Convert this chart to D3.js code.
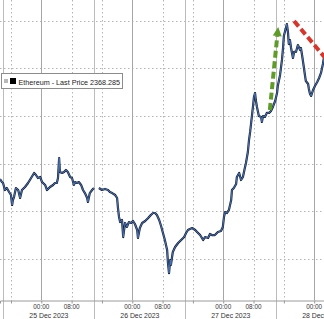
<!DOCTYPE html>
<html>
<head>
<meta charset="utf-8">
<script src="https://cdn.jsdelivr.net/npm/d3@7"></script>
<style>
  html, body { margin: 0; padding: 0; background: #fff; }
  svg { display: block; font-family: 'Liberation Sans', Arial, sans-serif; }
</style>
</head>
<body>
<div id="chart"></div>
<script>
// hours from 25 Dec 2023 00:00, ETH price (null = gap in the feed)
const hours = [
  -10.9, -10.4, -10.1, -9.6, -9.1, -8.5, -8.0, -7.7, -7.5, -7.2, -6.7, -6.1, -5.6, -5.1, -4.3, -3.5,
  -2.7, -1.9, -1.4, -0.9, -0.3, 0.2, 1.0, 1.5, 2.3, 3.1, 3.6, 4.1, 4.4, 4.7, 4.9, 5.5, 6.0, 6.5, 7.0,
  7.6, 8.1, 8.6, 8.9, 9.4, 9.9, 10.5, 11.0, 11.5, 12.1, 12.3, 12.8, 13.4, 13.9, 14.5,
  15.2, 16.0, 16.8, 17.6, 18.1, 18.7, 19.5, 20.0, 20.2, 20.5, 20.8, 21.3, 21.6, 22.1, 22.6, 23.1,
  23.7, 24.2, 24.7, 25.3, 25.5, 26.0, 26.6, 27.4, 28.2, 28.9, 29.5, 30.0, 30.5, 31.1, 31.6, 32.1,
  32.6, 33.2, 33.4, 33.7, 34.0, 34.2, 34.5, 34.7, 35.3, 36.1, 36.9, 37.7, 38.2, 38.7, 39.2, 39.8,
  40.6, 41.1, 41.9, 42.7, 43.2, 44.0, 44.5, 45.0, 45.8, 46.6, 47.4, 47.9, 48.2, 48.5, 49.0, 49.5,
  50.1, 50.3, 50.8, 51.4, 51.6, 52.2, 52.7, 53.2, 53.7, 54.0, 54.5, 54.8, 55.1, 55.3, 55.6, 55.9,
  56.1, 56.4, 56.6, 56.9, 57.4, 58.0, 58.2, 58.5, 59.0, 59.5, 60.1, 60.6, 61.1, 61.7, 62.2, 62.4,
  63.0, 63.5, 63.8, 64.0, 64.6, 64.8, 65.1, 65.3, 65.6, 65.9, 66.4, 66.7, 67.2, 67.7, 68.3, 68.5,
  68.8, 69.3, 69.6, 69.8, 70.4, 70.6, 70.9, 71.2, 71.7, 72.2, 72.8, 73.3, 73.8, 74.3, 74.6
]
const prices = [
  2283.7, 2280.5, 2279.5, 2272.1, 2274.2, 2270.0, 2266.8, 2256.3, 2261.6, 2264.7, 2274.2, 2272.1, 2263.7, 2272.1, 2275.3, 2279.5,
  2284.7, 2290.0, 2287.9, 2284.7, 2285.8, 2280.5, 2277.4, 2272.1, 2275.3, 2277.4, 2279.5, 2279.5, 2284.7, 2305.8, 2291.1, 2290.0, 2291.1, 2293.2, 2291.1,
  2285.8, 2284.7, 2277.4, 2280.5, 2279.5, 2280.5, 2277.4, 2272.1, 2268.9, 2263.7, 2259.5, 2268.9, 2272.1, 2274.2, null,
  2274.2, 2272.1, 2273.2, 2272.1, 2270.0, 2268.9, 2266.8, 2263.7, 2254.2, 2243.7, 2238.4, 2240.5, 2222.6, 2237.4, 2233.2, 2238.4,
  2237.4, 2239.5, 2236.3, 2230.0, 2221.6, 2232.1, 2237.4, 2239.5, 2242.6, 2245.8, 2247.9, 2247.9, 2245.8, 2240.5, 2234.2, 2226.8,
  2219.5, 2208.9, 2196.3, 2184.7, 2198.4, 2193.2, 2201.6, 2206.8, 2212.1, 2216.3, 2219.5, 2222.6, 2226.8, 2230.0, 2231.1, 2232.1,
  2230.0, 2227.9, 2224.7, 2219.5, 2222.6, 2221.6, 2225.8, 2224.7, 2224.7, 2227.9, 2229.0, 2233.2, 2243.7, 2248.9, 2247.9, 2251.1,
  2261.6, 2272.1, 2274.2, 2278.4, 2285.8, 2290.0, 2282.6, 2285.8, 2295.3, 2300.5, 2312.1, 2324.7, 2333.2, 2340.5, 2351.1, 2361.6,
  2370.0, 2374.2, 2366.8, 2359.5, 2350.0, 2349.0, 2343.7, 2350.0, 2349.0, 2353.2, 2353.2, 2355.3, 2359.5, 2365.8, 2374.2, 2381.6,
  2393.2, 2409.0, 2422.6, 2434.2, 2443.7, 2446.8, 2437.4, 2425.8, 2430.0, 2421.6, 2411.1, 2417.4, 2417.4, 2424.7, 2419.5, 2421.6,
  2414.2, 2400.5, 2392.1, 2386.8, 2383.7, 2378.4, 2373.2, 2371.1, 2377.4, 2381.6, 2385.8, 2390.0, 2395.3, 2404.7, 2412.1
]

const priceGrid = [2200, 2250, 2300, 2350, 2400, 2450]
const days = ['24 Dec 2023', '25 Dec 2023', '26 Dec 2023', '27 Dec 2023', '28 Dec 2023']
const legendLabel = 'Ethereum - Last Price 2368.285'

// annotation arrows, [hour, price]
const greenArrow = [[60.3, 2356.3], [62.5, 2443.7]]
const redArrow = [[66.7, 2450.0], [76.0, 2406.0]]

const width = 324
const height = 319
const plotBottom = 300

const base = new Date(2023, 11, 25, 0, 0)
const toDate = h => new Date(base.getTime() + h * 3600000)
const data = hours.map((h, i) => ({ date: toDate(h), price: prices[i] }))

const svg = d3.select('#chart')
  .append('svg')
  .attr('width', width)
  .attr('height', height)

// **Scales**
const x = d3.scaleTime()
  .domain([toDate(-10.9), toDate(74.59)])
  .range([0, width])

const y = d3.scaleLinear()
  .domain([2200, 2450])
  .range([258.5, 21])

// **Grid**
const grid = svg.append('g')

grid.selectAll('.hgrid')
  .data(priceGrid)
  .join('line')
  .attr('x1', 0)
  .attr('x2', width)
  .attr('y1', d => Math.round(y(d)) + 0.5)
  .attr('y2', d => Math.round(y(d)) + 0.5)
  .attr('stroke', '#b4b4b4')
  .attr('stroke-dasharray', '1.5,2.5')

const hourTicks = d3.timeHour.every(8).range(toDate(-12), toDate(76))
const dayTicks = hourTicks.filter(d => d.getHours() === 0)
const minorTicks = hourTicks.filter(d => d.getHours() !== 0)
const separators = d3.timeHour.every(1).range(toDate(-12), toDate(76)).filter(d => d.getHours() === 14)

grid.selectAll('.vminor')
  .data(minorTicks)
  .join('line')
  .attr('x1', d => Math.round(x(d)) + 0.5)
  .attr('x2', d => Math.round(x(d)) + 0.5)
  .attr('y1', 0)
  .attr('y2', plotBottom)
  .attr('stroke', '#b4b4b4')
  .attr('stroke-dasharray', '1.5,2.5')

grid.selectAll('.vday')
  .data(dayTicks)
  .join('line')
  .attr('x1', d => Math.round(x(d)) + 0.5)
  .attr('x2', d => Math.round(x(d)) + 0.5)
  .attr('y1', 0)
  .attr('y2', plotBottom)
  .attr('stroke', '#a6a6a6')

grid.selectAll('.vsep')
  .data(separators)
  .join('line')
  .attr('x1', d => Math.round(x(d)) + 0.5)
  .attr('x2', d => Math.round(x(d)) + 0.5)
  .attr('y1', 0)
  .attr('y2', height)
  .attr('stroke', '#bcbcbc')

// **X axis**
const axis = svg.append('g')
  .attr('transform', `translate(0,${plotBottom + 0.5})`)
  .call(d3.axisBottom(x).tickValues(hourTicks).tickSize(3).tickFormat(''))

axis.select('.domain').attr('stroke', '#9a9a9a')
axis.selectAll('.tick line').attr('stroke', '#9a9a9a')

svg.append('g')
  .selectAll('text')
  .data(hourTicks.filter(d => d.getHours() !== 16))
  .join('text')
  .attr('x', d => x(d))
  .attr('y', 309)
  .attr('text-anchor', 'middle')
  .style('font-size', '6.4px')
  .attr('fill', '#333')
  .text(d3.timeFormat('%H:%M'))

svg.append('g')
  .selectAll('text')
  .data(separators)
  .join('text')
  .attr('x', d => x(new Date(d.getTime() + 12 * 3600000)))
  .attr('y', 318)
  .attr('text-anchor', 'middle')
  .style('font-size', '6.9px')
  .attr('fill', '#333')
  .text((d, i) => days[i + 1])

// **Price line**
svg.append('clipPath')
  .attr('id', 'plot-clip')
  .append('rect')
  .attr('width', width)
  .attr('height', plotBottom)

const line = d3.line()
  .defined(d => d.price !== null)
  .x(d => x(d.date))
  .y(d => y(d.price))

const plot = svg.append('g').attr('clip-path', 'url(#plot-clip)')

plot.append('path')
  .datum(data)
  .attr('fill', 'none')
  .attr('stroke', '#16223d')
  .attr('stroke-width', 2.2)
  .attr('stroke-linejoin', 'round')
  .attr('d', line)

plot.append('path')
  .datum(data)
  .attr('fill', 'none')
  .attr('stroke', '#5584c8')
  .attr('stroke-width', 0.8)
  .attr('stroke-linejoin', 'round')
  .attr('d', line)

// **Arrows**
const pt = d => [x(toDate(d[0])), y(d[1])]
const [g0, g1] = greenArrow.map(pt)
const ang = Math.atan2(g1[1] - g0[1], g1[0] - g0[0])
const headLen = 9
const headW = 4.5
const hb = [g1[0] - headLen * Math.cos(ang), g1[1] - headLen * Math.sin(ang)]

plot.append('line')
  .attr('x1', g0[0]).attr('y1', g0[1])
  .attr('x2', hb[0]).attr('y2', hb[1])
  .attr('stroke', '#5e9b27')
  .attr('stroke-width', 4)
  .attr('stroke-dasharray', '7,3.5')

plot.append('polygon')
  .attr('points', [
    g1,
    [hb[0] + headW * Math.sin(ang), hb[1] - headW * Math.cos(ang)],
    [hb[0] - headW * Math.sin(ang), hb[1] + headW * Math.cos(ang)]
  ].map(p => p.join(',')).join(' '))
  .attr('fill', '#5e9b27')

const [r0, r1] = redArrow.map(pt)
plot.append('line')
  .attr('x1', r0[0]).attr('y1', r0[1])
  .attr('x2', r1[0]).attr('y2', r1[1])
  .attr('stroke', '#d8342a')
  .attr('stroke-width', 4)
  .attr('stroke-dasharray', '7,3.5')

// **Legend**
const legend = svg.append('g')

legend.append('rect')
  .attr('x', 1.5)
  .attr('y', 73.5)
  .attr('width', 121)
  .attr('height', 15)
  .attr('fill', '#fff')
  .attr('stroke', '#8c8c8c')

legend.append('rect')
  .attr('x', 4)
  .attr('y', 79)
  .attr('width', 4)
  .attr('height', 4)
  .attr('fill', '#b8b8b8')

legend.append('rect')
  .attr('x', 10)
  .attr('y', 78)
  .attr('width', 6)
  .attr('height', 6)
  .attr('fill', '#000')

legend.append('text')
  .attr('x', 18.5)
  .attr('y', 84.8)
  .style('font-size', '7.2px')
  .attr('fill', '#222')
  .text(legendLabel)
</script>
</body>
</html>
